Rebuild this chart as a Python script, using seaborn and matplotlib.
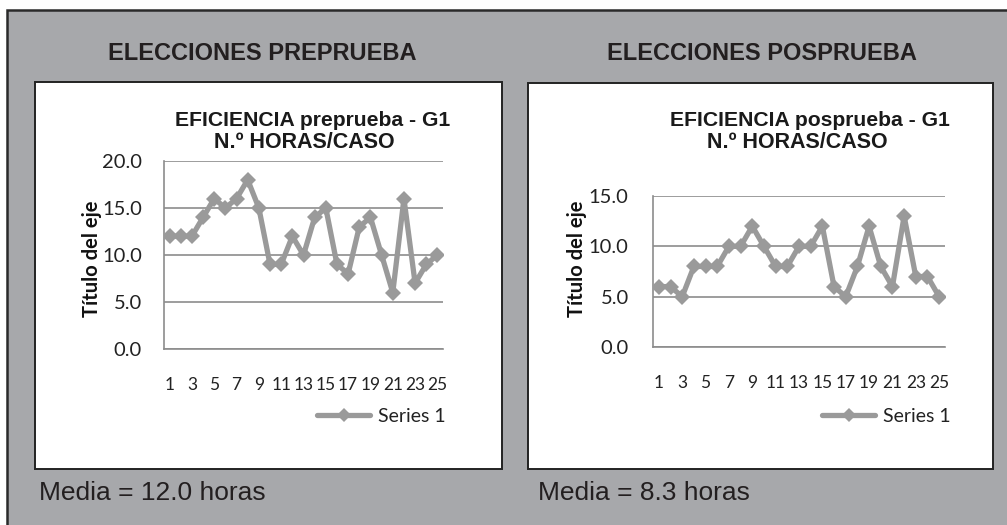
import matplotlib
matplotlib.use("Agg")
import matplotlib.pyplot as plt
import seaborn as sns
import pandas as pd
from matplotlib.patches import Rectangle

# ---- data ----
cases = list(range(1, 26))
pre_values = [12, 12, 12, 14, 16, 15, 16, 18, 15, 9, 9, 12, 10, 14, 15, 9, 8, 13, 14, 10, 6, 16, 7, 9, 10]
post_values = [6, 6, 5, 8, 8, 8, 10, 10, 12, 10, 8, 8, 10, 10, 12, 6, 5, 8, 12, 8, 6, 13, 7, 7, 5]
pre_yticks = [0, 5, 10, 15, 20]
post_yticks = [0, 5, 10, 15]
xtick_labels = [str(i) for i in range(1, 26, 2)]
section_titles = ["ELECCIONES PREPRUEBA", "ELECCIONES POSPRUEBA"]
chart_titles = [("EFICIENCIA preprueba - G1", "N.º HORAS/CASO"),
                ("EFICIENCIA posprueba - G1", "N.º HORAS/CASO")]
mean_texts = ["Media = 12.0 horas", "Media = 8.3 horas"]
series_name = "Series 1"
y_axis_title = "Título del eje"

sns.set_theme(style="white")
plt.rcParams['font.family'] = ['Liberation Sans', 'DejaVu Sans']

W, H = 1007, 525
fig = plt.figure(figsize=(W / 100, H / 100), dpi=100)
fig.patch.set_facecolor("white")

def fx(px):
    return px / W

def fy(py):
    return 1 - py / H

# outer gray background
fig.patches.append(Rectangle((fx(7), fy(530)), fx(1010) - fx(7), fy(10) - fy(530),
                             transform=fig.transFigure, facecolor="#a7a8ab",
                             edgecolor="#2a2a2a", linewidth=1.8, zorder=0))

# white panels
panels = [(35, 82, 502, 469), (528, 83, 993, 469)]
for (x0, y0, x1, y1) in panels:
    fig.patches.append(Rectangle((fx(x0), fy(y1)), fx(x1) - fx(x0), fy(y0) - fy(y1),
                                 transform=fig.transFigure, facecolor="white",
                                 edgecolor="#222222", linewidth=1.4, zorder=1))

# section titles
for cx, t in zip([262, 762], section_titles):
    fig.text(fx(cx), fy(53), t, ha="center", va="center", fontsize=17,
             fontweight="bold", color="#231f20", family=['Liberation Sans', 'DejaVu Sans'])

# mean texts
for x0, t in zip([39, 538], mean_texts):
    fig.text(fx(x0), fy(493), t, ha="left", va="center", fontsize=19,
             color="#231f20", family=['Liberation Sans', 'DejaVu Sans'])

line_color = "#9a9a9a"
grid_color = "#8c8c8c"
tick_font = ['Lato', 'DejaVu Sans']

axes_specs = [
    dict(rect=(164, 161, 443, 349), values=pre_values, yticks=pre_yticks, ymax=20,
         t1=(313, 121), t2=(304, 143), ylab_x=92, legend_x=317, ypad=16),
    dict(rect=(653, 196, 945, 347), values=post_values, yticks=post_yticks, ymax=15,
         t1=(810, 121), t2=(797, 143), ylab_x=577, legend_x=822, ypad=17.5),
]

for i, spec in enumerate(axes_specs):
    x0, y0, x1, y1 = spec["rect"]
    ax = fig.add_axes([fx(x0), fy(y1), fx(x1) - fx(x0), fy(y0) - fy(y1)], zorder=2)
    ax.set_facecolor("none")
    df = pd.DataFrame({"caso": cases, "valor": spec["values"]})
    sns.lineplot(data=df, x="caso", y="valor", ax=ax, color=line_color, marker="D",
                 markersize=8.5, markeredgewidth=0, linewidth=3.8, label=series_name,
                 zorder=3)
    ax.set_xlim(0.5, 25.5)
    ax.set_ylim(0, spec["ymax"])
    ax.set_yticks(spec["yticks"])
    ax.set_yticklabels([f"{v:.1f}" for v in spec["yticks"]], fontsize=14.5,
                       family=tick_font, color="#222222")
    ax.set_xticks(list(range(1, 26, 2)))
    ax.set_xticklabels(xtick_labels, fontsize=12.5, family=tick_font, color="#222222")
    ax.tick_params(axis="both", length=0)
    ax.tick_params(axis="x", pad=20)
    ax.tick_params(axis="y", pad=spec["ypad"])
    ax.yaxis.grid(True, color=grid_color, linewidth=1.2)
    ax.xaxis.grid(False)
    for s in ["top", "right"]:
        ax.spines[s].set_visible(False)
    for s in ["left", "bottom"]:
        ax.spines[s].set_visible(True)
        ax.spines[s].set_color(grid_color)
        ax.spines[s].set_linewidth(1.2)
    ax.set_xlabel("")
    ax.set_ylabel("")
    fig.text(fx(spec["ylab_x"]), fy(259), y_axis_title, rotation=90,
             ha="center", va="center", fontsize=14.5, fontweight="bold",
             family=tick_font, color="#111111")
    t1, t2 = chart_titles[i]
    fig.text(fx(spec["t1"][0]), fy(spec["t1"][1]), t1, ha="center", va="center",
             fontsize=15.2, fontweight="bold", color="#1a1a1a")
    fig.text(fx(spec["t2"][0]), fy(spec["t2"][1]), t2, ha="center", va="center",
             fontsize=15.5, fontweight="bold", color="#1a1a1a")
    leg = ax.legend(loc="center left", bbox_to_anchor=(fx(spec["legend_x"]), fy(416)),
                    bbox_transform=fig.transFigure, frameon=False, borderpad=0,
                    borderaxespad=0, handlelength=2.75, handletextpad=0.4,
                    prop={"family": tick_font, "size": 14})
    for h in leg.legend_handles:
        h.set_markersize(7)
    for txt in leg.get_texts():
        txt.set_color("#222222")

fig.savefig("out.png", dpi=100, facecolor="white")
